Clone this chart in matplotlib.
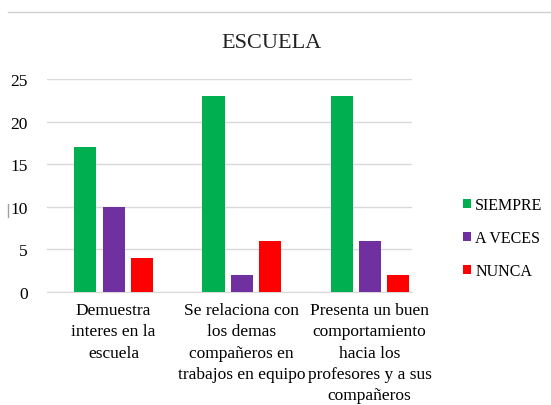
import matplotlib.pyplot as plt
import numpy as np
from matplotlib.lines import Line2D

categorias = ["Demuestra\ninteres en la\nescuela",
              "Se relaciona con\nlos demas\ncompañeros en\ntrabajos en equipo",
              "Presenta un buen\ncomportamiento\nhacia los\nprofesores y a sus\ncompañeros"]
siempre = [17, 23, 23]
a_veces = [10, 2, 6]
nunca = [4, 6, 2]
series = ["SIEMPRE", "A VECES", "NUNCA"]
colores = ["#00B050", "#7030A0", "#FF0000"]

plt.rcParams['font.family'] = ['Liberation Serif', 'DejaVu Serif']

fig = plt.figure(figsize=(5.51, 4.06), dpi=100)
ax = fig.add_axes([47/551, 1 - 293/406, 365/551, 213/406])

x = np.arange(len(categorias))
ancho = 0.172
paso = 0.22
for i, (vals, nombre, c) in enumerate(zip([siempre, a_veces, nunca], series, colores)):
    ax.bar(x + (i - 1) * paso, vals, ancho, color=c, label=nombre, zorder=3)

ax.set_ylim(0, 25)
ax.set_yticks(range(0, 26, 5))
ax.set_xlim(-0.52, 2.33)
ax.set_xticks(x)
ax.set_xticklabels(categorias, fontsize=12.5, linespacing=1.45)
ax.tick_params(axis='y', labelsize=12.5, length=0, pad=14)
ax.tick_params(axis='x', length=0, pad=7)
ax.grid(axis='y', color='#D9D9D9', linewidth=1, zorder=0)
for s in ['top', 'right', 'left']:
    ax.spines[s].set_visible(False)
ax.spines['bottom'].set_color('#D9D9D9')

fig.text(271/551, 1 - 43/406, "ESCUELA", fontsize=16, ha='center', va='center', color='#222222')

ax.legend(loc='center left', bbox_to_anchor=(449/551, 1 - 239/406), bbox_transform=fig.transFigure,
          frameon=False, fontsize=11.5, handlelength=0.5, handleheight=0.5, handletextpad=0.25,
          labelspacing=1.05)

# borde superior del grafico
fig.add_artist(Line2D([8/551, 1], [1 - 13/406, 1 - 13/406], color='#D0D0D0', linewidth=1))
fig.add_artist(Line2D([8/551, 8/551], [1 - 205/406, 1 - 218/406], color='#A0A0A0', linewidth=1))

fig.savefig("out.png", dpi=100)
